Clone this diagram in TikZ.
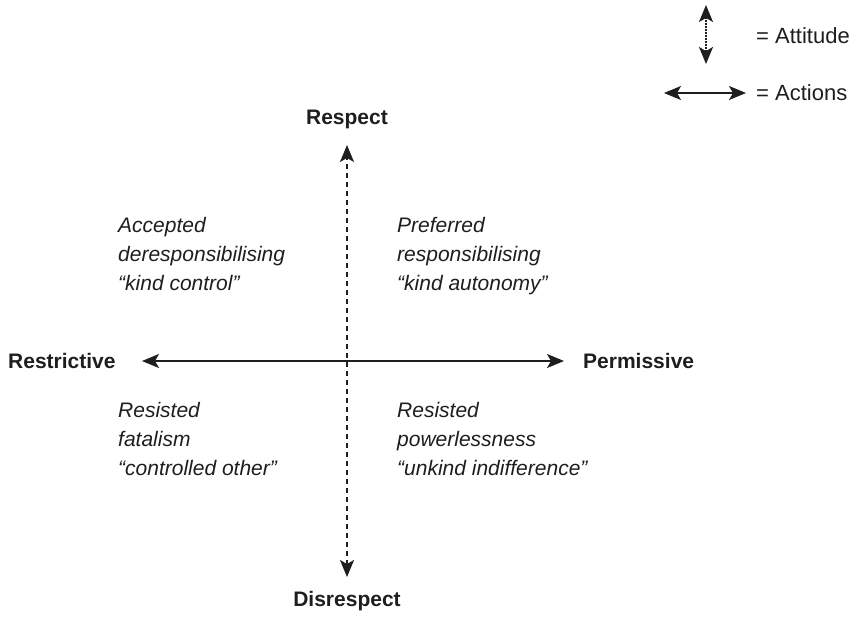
\documentclass[tikz,border=0pt]{standalone}
\usepackage{fontspec}
\setmainfont{Liberation Sans}
\usepackage{tikz}
\usetikzlibrary{arrows.meta,positioning}
\definecolor{axisgrey}{RGB}{30,30,30}

\begin{document}
\begin{tikzpicture}[x=1pt, y=-1pt,
  axislabel/.style={font=\fontsize{21}{25}\selectfont\bfseries, text=axisgrey, inner sep=0pt},
  quadtext/.style={font=\fontsize{21}{29}\selectfont\itshape, text=axisgrey, align=left, anchor=north west, inner sep=0pt},
  keytext/.style={font=\fontsize{22}{26}\selectfont, text=axisgrey, anchor=west, inner sep=0pt},
  actions/.style={{Stealth[length=17pt, width=14pt, inset=4pt]}-{Stealth[length=17pt, width=14pt, inset=4pt]}, line width=1.6pt, axisgrey},
  attitude/.style={{Stealth[length=17pt, width=14pt, inset=4pt]}-{Stealth[length=17pt, width=14pt, inset=4pt]}, line width=1.6pt, axisgrey, dash pattern=on 5pt off 4pt}]
\useasboundingbox (0,0) rectangle (864,619);
% axes
\node[axislabel] (resp) at (347,119) {Respect};
\node[axislabel] (disresp) at (347,601) {Disrespect};
\node[axislabel, anchor=west] (restr) at (8,361) {Restrictive};
\node[axislabel, anchor=west] (perm) at (583,361) {Permissive};
\coordinate (up) at (347,145);
\coordinate (down) at (347,577);
\coordinate (left) at (142,361);
\coordinate (right) at (564,361);
\draw[attitude] (down) -- (up);
\draw[actions] (left) -- (right);
% quadrants
\node[quadtext] (ul) at (118,217) {Accepted\\deresponsibilising\\“kind control”};
\node[quadtext] (ur) at (397,217) {Preferred\\responsibilising\\“kind autonomy”};
\node[quadtext] (ll) at (118,402) {Resisted\\fatalism\\“controlled other”};
\node[quadtext] (lr) at (397,402) {Resisted\\powerlessness\\“unkind indifference”};
% key
\coordinate (kt) at (706,5);
\coordinate (kb) at (706,64);
\coordinate (kl) at (664,93);
\coordinate (kr) at (746,93);
\draw[attitude, dash pattern=on 1.5pt off 1.5pt] (kb) -- (kt);
\draw[actions] (kl) -- (kr);
\node[keytext] (katt) at (756,36) {= Attitude};
\node[keytext] (kact) at (756,93) {= Actions};
\end{tikzpicture}
\end{document}
